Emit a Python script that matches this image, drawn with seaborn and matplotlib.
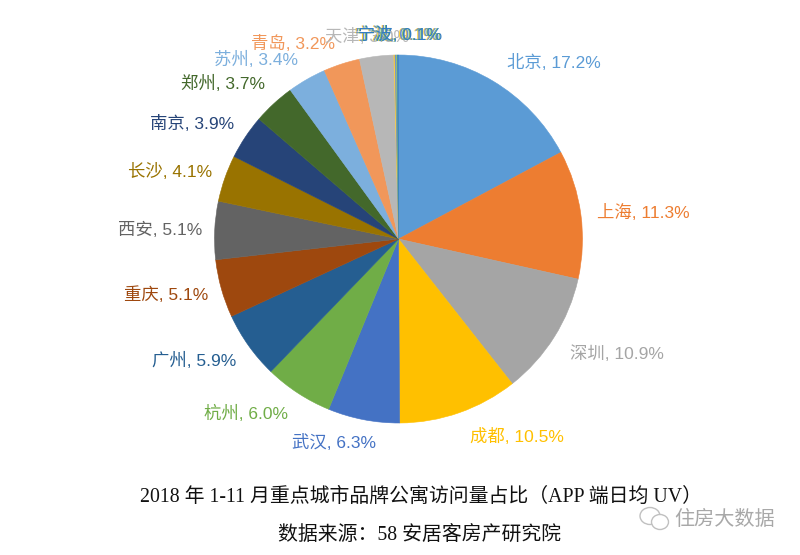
import numpy as np
import matplotlib
matplotlib.use("Agg")
import matplotlib.pyplot as plt
from matplotlib.patches import Ellipse
import seaborn as sns

cities = ["北京", "上海", "深圳", "成都", "武汉", "杭州", "广州", "重庆", "西安", "长沙",
          "南京", "郑州", "苏州", "青岛", "天津", "宁波", "宁波", "宁波", "宁波"]
shares = [17.2, 11.3, 10.9, 10.5, 6.3, 6.0, 5.9, 5.1, 5.1, 4.1,
          3.9, 3.7, 3.4, 3.2, 3.0, 0.1, 0.1, 0.1, 0.1]
slice_colors = ["#5B9BD5", "#ED7D31", "#A5A5A5", "#FFC000", "#4472C4", "#70AD47", "#255E91",
                "#9E480E", "#636363", "#997300", "#264478", "#43682B", "#7CAFDD", "#F1975A",
                "#B7B7B7", "#FFCD33", "#698ED0", "#8CC168", "#327DC2"]
title_line1 = "2018 年 1-11 月重点城市品牌公寓访问量占比（APP 端日均 UV）"
title_line2 = "数据来源：58 安居客房产研究院"
watermark = "住房大数据"

# label placement nudges, in pixels (x right, y down), per city
nudge_px = {"武汉": (18, 1), "杭州": (-1, 2), "广州": (-1, 2), "郑州": (1, -4), "深圳": (-1, 5),
            "成都": (-1, 3), "上海": (-2, 1), "天津": (38, 2), "苏州": (0, -1), "青岛": (0, 1),
            "西安": (1, 1), "长沙": (0, 1), "南京": (0, -1), "重庆": (0, 0), "宁波": (2, 2)}

sns.set_theme(style="white")
label_font = ["Liberation Sans", "Noto Sans CJK SC"]
title_font = ["Liberation Serif", "Noto Sans CJK SC"]
palette = sns.color_palette(slice_colors)

W, H = 800, 555
fig = plt.figure(figsize=(W / 100, H / 100), dpi=100, facecolor="white")
cx, cy, r = 398.5, 239, 184
ax = fig.add_axes([(cx - r) / W, 1 - (cy + r) / H, 2 * r / W, 2 * r / H])
wedges, _ = ax.pie(shares, colors=palette, startangle=90, counterclock=False, radius=1,
                   wedgeprops=dict(linewidth=0.4))
for wedge in wedges:
    wedge.set_edgecolor(wedge.get_facecolor())
ax.set_xlim(-1, 1)
ax.set_ylim(-1, 1)

total = sum(shares)
cum = np.cumsum(shares) - np.array(shares) / 2
pt = 72 / 100
for city, val, mid, col in zip(cities, shares, cum, palette):
    th = 2 * np.pi * mid / total
    sx, cs = np.sin(th), np.cos(th)
    ha = "left" if sx >= 0 else "right"
    base_dx = 9 if sx >= 0 else -4
    if val < 1:
        # the smallest slices' labels are stacked at the top of the pie
        ha, base_dx = "center", 0
    nx, ny = nudge_px.get(city, (0, 0))
    ax.annotate(f"{city}, {val:.1f}%", xy=(1.05 * sx, 1.05 * cs),
                xytext=((base_dx + nx) * pt, 13 * cs * pt - ny * pt),
                textcoords="offset points", ha=ha, va="center", color=col,
                fontsize=12.5, family=label_font, annotation_clip=False)

fig.text(420.5 / W, 1 - 497 / H, title_line1, ha="center", va="center",
         fontsize=14.3, color="#111111", family=title_font)
fig.text(420 / W, 1 - 535 / H, title_line2, ha="center", va="center",
         fontsize=14.3, color="#111111", family=title_font)
fig.text(725 / W, 1 - 519 / H, watermark, ha="center", va="center",
         fontsize=14.5, color="#A8A8A8", family=label_font)
for px, py, w, h in [(650, 516, 20, 17), (660, 522, 17, 15)]:
    fig.add_artist(Ellipse((px / W, 1 - py / H), w / W, h / H, transform=fig.transFigure,
                           fill=True, facecolor="white", edgecolor="#C0C0C0", linewidth=1))

fig.savefig("out.png", dpi=100, facecolor="white")
